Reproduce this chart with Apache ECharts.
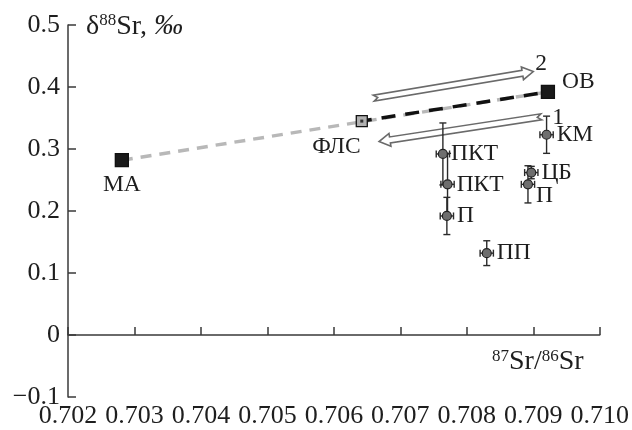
<!DOCTYPE html>
<html>
<head>
<meta charset="utf-8">
<script src="https://cdn.jsdelivr.net/npm/echarts@6/dist/echarts.min.js"></script>
<style>
html,body{margin:0;padding:0;background:#fff;}
#chart{width:632px;height:430px;}
</style>
</head>
<body>
<div id="chart"></div>
<script>
// ---- Data ----
const endMemberNames = ['МА', 'ФЛС', 'ОВ'];
const endMemberSr87 = [0.70281, 0.70642, 0.70922];
const endMemberD88 = [0.282, 0.345, 0.392];

const sampleNames = ['ПКТ', 'ПКТ', 'П', 'ПП', 'КМ', 'ЦБ', 'П'];
const sampleSr87 = [0.70764, 0.70771, 0.70770, 0.70830, 0.70920, 0.70897, 0.70892];
const sampleD88 = [0.292, 0.243, 0.192, 0.132, 0.323, 0.262, 0.243];
const sampleSr87Err = [0.0001, 0.0001, 0.0001, 0.0001, 0.0001, 0.0001, 0.0001];
const sampleD88Err = [0.05, 0.05, 0.03, 0.02, 0.03, 0.01, 0.03];

const arrowNames = ['2', '1'];
const arrowTailSr87 = [0.70660, 0.70912];
const arrowTailD88 = [0.382, 0.352];
const arrowHeadSr87 = [0.70900, 0.70668];
const arrowHeadD88 = [0.425, 0.312];

const xMin = 0.702, xMax = 0.710, xStep = 0.001;
const yMin = -0.1, yMax = 0.5, yStep = 0.1;

// ---- Styling (separate from data) ----
const FONT = '"Liberation Serif", "DejaVu Serif", serif';
const TXT = '#1e1e1e';
const AX = '#3a3a3a';
const LBL = 23.5;
const endLabelStyle = [
  {position: 'bottom', distance: 6, offset: [0, 0]},
  {position: 'left', distance: 0, offset: [5, 26]},
  {position: 'right', distance: 7, offset: [0, -10]}
];
const sampleLabelOffset = [[0,0],[0,0],[0,0],[0,0],[0,0],[0,0],[-2,11]];
const sampleLabelDist = [3, 4, 5, 5, 5, 5, 5];
const arrowLabelOffset = [[2, -8], [11, 1]];

function yFmt(v) {
  if (Math.abs(v) < 1e-9) return '0';
  return (v < 0 ? '\u2212' : '') + Math.abs(v).toFixed(1);
}

const chart = echarts.init(document.getElementById('chart'), null, {renderer: 'canvas'});

const endData = endMemberNames.map((n, i) => ({
  name: n,
  value: [endMemberSr87[i], endMemberD88[i]],
  label: {show: true, formatter: n, position: endLabelStyle[i].position,
          distance: endLabelStyle[i].distance, offset: endLabelStyle[i].offset,
          fontFamily: FONT, fontSize: LBL, color: TXT}
}));

const sampleData = sampleNames.map((n, i) => ({
  name: n,
  value: [sampleSr87[i], sampleD88[i]],
  label: {show: true, formatter: n, position: 'right', distance: sampleLabelDist[i],
          offset: sampleLabelOffset[i], fontFamily: FONT, fontSize: LBL, color: TXT}
}));

const errData = sampleNames.map((n, i) => [sampleSr87[i], sampleD88[i], sampleSr87Err[i], sampleD88Err[i]]);
const arrowData = arrowNames.map((n, i) => [arrowTailSr87[i], arrowTailD88[i], arrowHeadSr87[i], arrowHeadD88[i], i]);

const ma = 0, fls = 1, ov = 2;

const option = {
  backgroundColor: '#fff',
  animation: false,
  grid: {left: 68, right: 30, top: 25, bottom: 33},
  xAxis: {
    type: 'value', min: xMin, max: xMax, interval: xStep,
    axisLine: {lineStyle: {color: AX, width: 1.5}},
    axisTick: {inside: true, length: 8, lineStyle: {color: AX, width: 1.5}},
    axisLabel: {formatter: v => v.toFixed(3), fontFamily: FONT, fontSize: 26, color: TXT, margin: 6, hideOverlap: false},
    splitLine: {show: false}
  },
  yAxis: {
    type: 'value', min: yMin, max: yMax, interval: yStep,
    axisLine: {lineStyle: {color: AX, width: 1.5}},
    axisTick: {inside: true, length: 8, lineStyle: {color: AX, width: 1.5}},
    axisLabel: {formatter: yFmt, fontFamily: FONT, fontSize: 26, color: TXT, margin: 8},
    splitLine: {show: false}
  },
  graphic: [
    {type: 'text', left: 86, top: 12, z: 100,
     style: {text: '{a|δ}{s|88}{a|Sr, }{i|‰}',
       rich: {a: {fontFamily: FONT, fontSize: 28, fill: TXT, verticalAlign: 'bottom'},
              s: {fontFamily: FONT, fontSize: 17, fill: TXT, verticalAlign: 'top'},
              i: {fontFamily: FONT, fontSize: 29, fontStyle: 'italic', fill: TXT, verticalAlign: 'bottom'}}}},
    {type: 'text', left: 492, top: 348, z: 100,
     style: {text: '{s|87}{a|Sr/}{s|86}{a|Sr}',
       rich: {a: {fontFamily: FONT, fontSize: 28, fill: TXT, verticalAlign: 'bottom'},
              s: {fontFamily: FONT, fontSize: 17, fill: TXT, verticalAlign: 'top'}}}}
  ],
  series: [
    {
      type: 'line', silent: true, symbol: 'none', z: 2,
      data: [[endMemberSr87[ma], endMemberD88[ma]], [endMemberSr87[ov], endMemberD88[ov]]],
      lineStyle: {color: '#b8b8b8', width: 3.5, type: [11, 8]}
    },
    {
      type: 'line', silent: true, symbol: 'none', z: 3,
      data: [[endMemberSr87[fls], endMemberD88[fls]], [endMemberSr87[ov], endMemberD88[ov]]],
      lineStyle: {color: '#111', width: 3.5, type: [14, 10], dashOffset: 4}
    },
    {
      type: 'custom', silent: true, z: 4,
      data: arrowData,
      renderItem: function (params, api) {
        const t = api.coord([api.value(0), api.value(1)]);
        const h = api.coord([api.value(2), api.value(3)]);
        const idx = api.value(4);
        const dx = h[0] - t[0], dy = h[1] - t[1];
        const len = Math.sqrt(dx * dx + dy * dy);
        const u = [dx / len, dy / len];
        const n = [-u[1], u[0]];
        const w = 3, hw = 6.5, L = 11, notch = 4;
        const P = (base, a, b) => [base[0] + u[0] * a + n[0] * b, base[1] + u[1] * a + n[1] * b];
        const pts = [
          P(t, notch, 0), P(t, 0, w), P(h, -L, w), P(h, -L, hw), h.slice(),
          P(h, -L, -hw), P(h, -L, -w), P(t, 0, -w)
        ];
        const right = h[0] > t[0] ? h : t;
        const off = arrowLabelOffset[idx];
        return {type: 'group', children: [
          {type: 'polygon', shape: {points: pts},
           style: {fill: '#fff', stroke: '#6a6a6a', lineWidth: 1.6, lineJoin: 'miter'}},
          {type: 'text', x: right[0] + off[0], y: right[1] + off[1],
           style: {text: arrowNames[idx], fontFamily: FONT, fontSize: LBL, fill: TXT,
                   verticalAlign: 'middle', align: 'left'}}
        ]};
      }
    },
    {
      type: 'custom', silent: true, z: 5,
      data: errData,
      renderItem: function (params, api) {
        const x = api.value(0), y = api.value(1), ex = api.value(2), ey = api.value(3);
        const top = api.coord([x, y + ey]), bot = api.coord([x, y - ey]);
        const lft = api.coord([x - ex, y]), rgt = api.coord([x + ex, y]);
        const cap = 3.5;
        const st = {stroke: '#2a2a2a', lineWidth: 1.4};
        const L = (x1, y1, x2, y2) => ({type: 'line', shape: {x1, y1, x2, y2}, style: st});
        return {type: 'group', children: [
          L(top[0], top[1], bot[0], bot[1]),
          L(top[0] - cap, top[1], top[0] + cap, top[1]),
          L(bot[0] - cap, bot[1], bot[0] + cap, bot[1]),
          L(lft[0], lft[1], rgt[0], rgt[1]),
          L(lft[0], lft[1] - cap, lft[0], lft[1] + cap),
          L(rgt[0], rgt[1] - cap, rgt[0], rgt[1] + cap)
        ]};
      }
    },
    {
      type: 'scatter', z: 6, symbol: 'circle', symbolSize: 9,
      itemStyle: {color: '#6e6e6e', borderColor: '#222', borderWidth: 1.2, opacity: 1},
      data: sampleData
    },
    {
      type: 'scatter', z: 7, symbol: 'rect',
      symbolSize: (v, p) => p.dataIndex === fls ? 11 : 13,
      itemStyle: {
        color: p => p.dataIndex === fls ? '#b0b0b0' : '#1a1a1a',
        borderColor: '#111', borderWidth: 1.3, opacity: 1
      },
      data: endData
    },
    {
      type: 'scatter', z: 8, symbol: 'rect', symbolSize: 3, silent: true,
      itemStyle: {color: '#111'},
      data: [[endMemberSr87[fls], endMemberD88[fls]]]
    }
  ]
};
chart.setOption(option);
</script>
</body>
</html>
